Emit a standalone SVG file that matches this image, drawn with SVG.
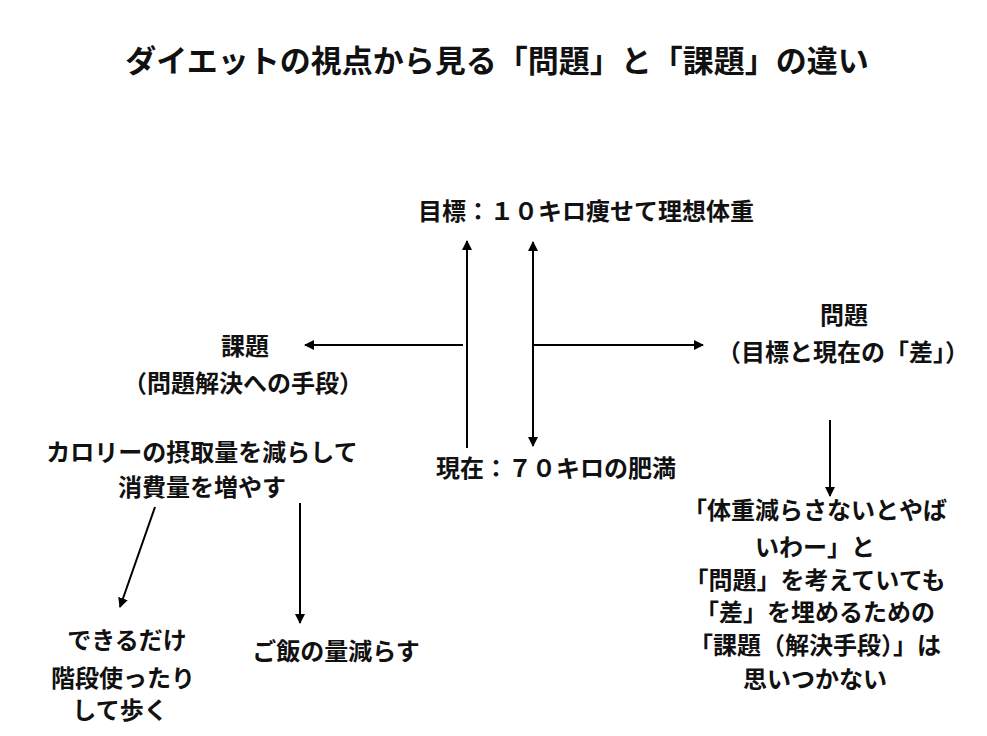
<svg xmlns="http://www.w3.org/2000/svg" width="987" height="736" viewBox="0 0 987 736">
<style>
text{font-family:"Noto Sans CJK JP","Noto Sans",sans-serif;font-weight:700;fill:#111;text-anchor:middle;font-size:24px}
.title{font-size:31px}
.c{stroke:#000;stroke-width:2;fill:none}
</style>
<defs>
<marker id="ah" viewBox="0 0 10 10" refX="9" refY="5" markerWidth="5" markerHeight="5" orient="auto-start-reverse" markerUnits="strokeWidth">
<path d="M0,0 L10,5 L0,10 z" fill="#000"/>
</marker>
</defs>
<rect width="987" height="736" fill="#fff"/>
<text class="title" x="497" y="72">ダイエットの視点から見る「問題」と「課題」の違い</text>
<g id="goal"><text x="586" y="220">目標：１０キロ痩せて理想体重</text></g>
<g id="current"><text x="556" y="477">現在：７０キロの肥満</text></g>
<g id="problem"><text x="844" y="324">問題</text><text x="843" y="361">（目標と現在の「差」）</text></g>
<g id="task"><text x="245" y="355">課題</text><text x="243" y="392">（問題解決への手段）</text></g>
<g id="calorie"><text x="202" y="461">カロリーの摂取量を減らして</text><text x="202" y="496">消費量を増やす</text></g>
<g id="walk"><text x="127" y="649">できるだけ</text><text x="123" y="687">階段使ったり</text><text x="120" y="719">して歩く</text></g>
<g id="rice"><text x="336" y="660">ご飯の量減らす</text></g>
<g id="note">
<text x="815" y="519">「体重減らさないとやば</text>
<text x="815" y="556">いわー」と</text>
<text x="815" y="589">「問題」を考えていても</text>
<text x="815" y="621">「差」を埋めるための</text>
<text x="815" y="654">「課題（解決手段）」は</text>
<text x="815" y="688">思いつかない</text>
</g>
<g id="connectors">
<line class="c" x1="467" y1="448" x2="467" y2="241" marker-end="url(#ah)"/>
<line class="c" x1="533" y1="242" x2="533" y2="446" marker-start="url(#ah)" marker-end="url(#ah)"/>
<line class="c" x1="463" y1="345" x2="305" y2="345" marker-end="url(#ah)"/>
<line class="c" x1="533" y1="345" x2="703" y2="345" marker-end="url(#ah)"/>
<line class="c" x1="830" y1="420" x2="830" y2="496" marker-end="url(#ah)"/>
<line class="c" x1="155" y1="507" x2="120" y2="607" marker-end="url(#ah)"/>
<line class="c" x1="300" y1="503" x2="300" y2="623" marker-end="url(#ah)"/>
</g>
</svg>
